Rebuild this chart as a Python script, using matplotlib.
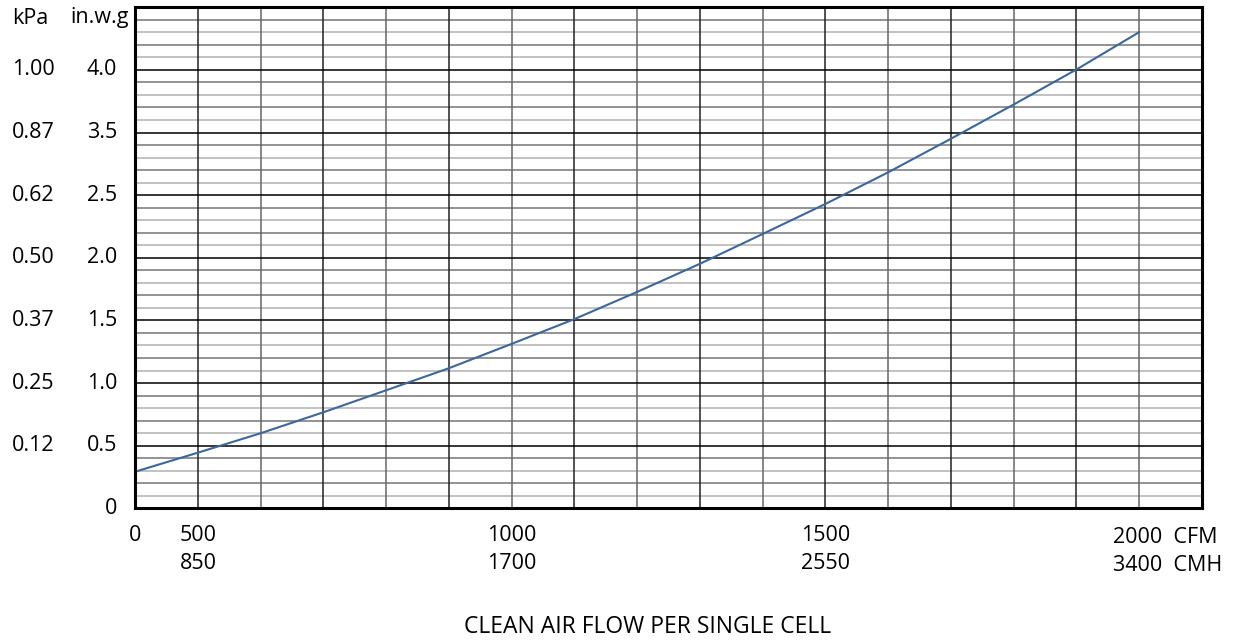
"""Pressure drop vs clean air flow per single cell."""
import numpy as np
import matplotlib; matplotlib.use("Agg"); import matplotlib.pyplot as plt
from matplotlib.transforms import blended_transform_factory

plt.rcParams["font.family"] = ["Open Sans", "DejaVu Sans"]

# ---- data ----
# flow in CFM, pressure drop in chart divisions (1 division = one labelled major line)
flow_cfm = [400, 500, 600, 700, 800, 900, 1000, 1100, 1200, 1300, 1400, 1500, 1600, 1700, 1800, 1900, 2000]
dp_div = [0.585, 0.889, 1.199, 1.534, 1.885, 2.237, 2.626, 3.021, 3.455, 3.904, 4.38, 4.859, 5.364, 5.9, 6.446, 7.005, 7.601]

x_ticks = [400, 500, 1000, 1500]
x_labels_cfm = ["0", "500", "1000", "1500"]
x_labels_cmh = ["", "850", "1700", "2550"]
y_major = [0, 1, 2, 3, 4, 5, 6, 7]
y_labels_inwg = ["0", "0.5", "1.0", "1.5", "2.0", "2.5", "3.5", "4.0"]
y_labels_kpa = ["", "0.12", "0.25", "0.37", "0.50", "0.62", "0.87", "1.00"]

W, H = 1235, 640
fig = plt.figure(figsize=(W / 100, H / 100), dpi=100)
ax = fig.add_axes([135.3 / W, 1 - 508.3 / H, (1201.7 - 135.3) / W, (508.3 - 7.3) / H])
ax.set_xlim(400, 2100); ax.set_ylim(0, 8)

# grid
for i, xv in enumerate(np.arange(500, 2100, 100)):
    ax.axvline(xv, color="#222" if i % 2 == 0 else "#666", lw=1.1, zorder=1)
for k in range(8):
    for j in range(1, 5):
        ax.axhline(k + j / 5, color="#8a8a8a" if j % 2 == 0 else "#bdbdbd", lw=1.3, zorder=0.5)
for yv in y_major[1:] + [8]:
    ax.axhline(yv, color="black", lw=1.1, zorder=1)

ax.plot(flow_cfm, dp_div, color="#3a679c", lw=1.5, zorder=3)

for s in ax.spines.values():
    s.set_linewidth(2.2); s.set_color("black"); s.set_zorder(4)

fs = 15.5
ax.set_xticks(x_ticks)
ax.set_xticklabels([f"{a}\n{b}" for a, b in zip(x_labels_cfm, x_labels_cmh)], fontsize=fs, linespacing=1.45, va="top")
ax.tick_params(axis="x", length=0, pad=12)
ax.set_yticks([])
ax.text(1958, -0.3, "2000  CFM\n3400  CMH", fontsize=fs, ha="left", va="top", linespacing=1.45)

tr = blended_transform_factory(fig.transFigure, ax.transData)
for yv, a, b in zip(y_major, y_labels_kpa, y_labels_inwg):
    ax.text(12 / W, yv, a, transform=tr, fontsize=fs, ha="left", va="center")
    ax.text(117 / W, yv, b, transform=tr, fontsize=fs, ha="right", va="center")
fig.text(12 / W, 1 - 18 / H, "kPa", fontsize=fs, ha="left", va="center")
fig.text(70 / W, 1 - 18 / H, "in.w.g", fontsize=fs, ha="left", va="center")

fig.text(648 / W, 1 - 627 / H, "CLEAN AIR FLOW PER SINGLE CELL", fontsize=16.5, ha="center", va="center")

fig.savefig("out.png", dpi=100)
